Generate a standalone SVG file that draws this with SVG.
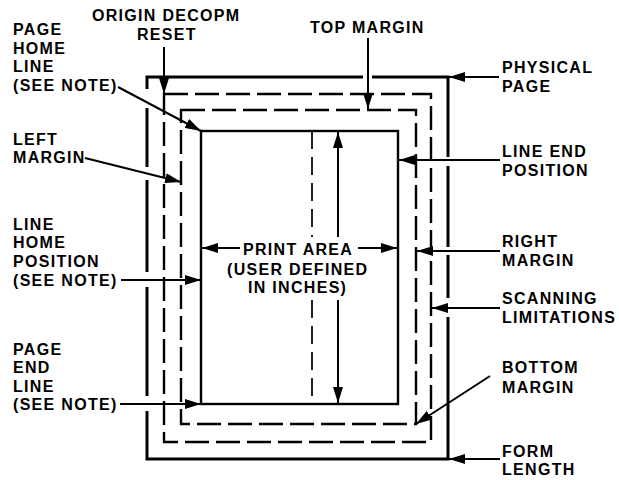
<svg xmlns="http://www.w3.org/2000/svg" width="619" height="480" viewBox="0 0 619 480">
<style>
  text { font-family: "Liberation Sans", Arial, sans-serif; font-weight: bold; font-size: 16px; letter-spacing: 1.3px; fill: #000; }
  .page { fill: none; stroke: #000; stroke-width: 3; stroke-linecap: butt; stroke-linejoin: miter; }
  .dash { fill: none; stroke: #000; stroke-width: 2.4; stroke-dasharray: 24 7; }
  .print { fill: none; stroke: #000; stroke-width: 2.4; }
  .mid { fill: none; stroke: #222; stroke-width: 2; stroke-dasharray: 18 8; }
  .arr { fill: none; stroke: #000; stroke-width: 2; marker-end: url(#ah); }
</style>
<defs>
  <marker id="ah" viewBox="0 0 16 10" markerWidth="16" markerHeight="10" refX="16" refY="5" orient="auto" markerUnits="userSpaceOnUse">
    <path d="M0,0 L16,5 L0,10 z" fill="#000"/>
  </marker>
</defs>
<rect width="619" height="480" fill="#fff"/>

<g id="frame">
  <path class="page" d="M147,89 V77 H363 M372,77 H448 V157 M448,166 V247 M448,255 V298 M448,317 V459 H147 V411 M147,396 V287 M147,272 V180 M147,167 V108"/>
  <rect id="scan-limits" class="dash" x="164" y="94" width="267" height="348"/>
  <rect id="margins" class="dash" x="181" y="110" width="235" height="314"/>
  <rect id="print-area" class="print" x="201" y="131" width="197" height="273"/>
  <path class="mid" d="M312,131 V237 M312,300 V404"/>
</g>

<g id="connectors">
  <line class="arr" x1="164" y1="47" x2="164" y2="94"/>
  <line class="arr" x1="118" y1="87" x2="201" y2="131"/>
  <line class="arr" x1="85" y1="158" x2="181" y2="182"/>
  <line class="arr" x1="121" y1="280" x2="201" y2="280"/>
  <line class="arr" x1="120" y1="404" x2="201" y2="404"/>
  <line class="arr" x1="368" y1="38" x2="368" y2="109"/>
  <line class="arr" x1="499" y1="77" x2="449" y2="77"/>
  <line class="arr" x1="500" y1="160" x2="399" y2="160"/>
  <line class="arr" x1="500" y1="251" x2="417" y2="251"/>
  <line class="arr" x1="500" y1="308" x2="432" y2="308"/>
  <line class="arr" x1="490" y1="376" x2="416" y2="424"/>
  <line class="arr" x1="500" y1="459" x2="449" y2="459"/>
  <line class="arr" x1="240" y1="248" x2="202" y2="248"/>
  <line class="arr" x1="358" y1="248" x2="397" y2="248"/>
  <line class="arr" x1="338" y1="237" x2="338" y2="132"/>
  <line class="arr" x1="338" y1="300" x2="338" y2="403"/>
</g>

<g id="label-origin"><text x="92" y="21">ORIGIN DECOPM</text><text x="137" y="40">RESET</text></g>
<g id="label-page-home"><text x="13" y="35">PAGE</text><text x="13" y="54">HOME</text><text x="13" y="72">LINE</text><text x="13" y="91">(SEE NOTE)</text></g>
<g id="label-left-margin"><text x="13" y="145">LEFT</text><text x="13" y="163">MARGIN</text></g>
<g id="label-line-home"><text x="13" y="230">LINE</text><text x="13" y="248">HOME</text><text x="13" y="267">POSITION</text><text x="13" y="286">(SEE NOTE)</text></g>
<g id="label-page-end"><text x="13" y="355">PAGE</text><text x="13" y="373">END</text><text x="13" y="392">LINE</text><text x="13" y="410">(SEE NOTE)</text></g>
<g id="label-top-margin"><text x="310" y="33">TOP MARGIN</text></g>
<g id="label-physical"><text x="502" y="73">PHYSICAL</text><text x="502" y="92">PAGE</text></g>
<g id="label-line-end"><text x="502" y="157">LINE END</text><text x="502" y="176">POSITION</text></g>
<g id="label-right-margin"><text x="502" y="247">RIGHT</text><text x="502" y="266">MARGIN</text></g>
<g id="label-scanning"><text x="502" y="304">SCANNING</text><text x="502" y="323">LIMITATIONS</text></g>
<g id="label-bottom-margin"><text x="502" y="373">BOTTOM</text><text x="502" y="393">MARGIN</text></g>
<g id="label-form-length"><text x="502" y="457">FORM</text><text x="502" y="475">LENGTH</text></g>
<g id="label-print-area"><text x="243" y="255">PRINT AREA</text><text x="227" y="275">(USER DEFINED</text><text x="248" y="293">IN INCHES)</text></g>
</svg>
